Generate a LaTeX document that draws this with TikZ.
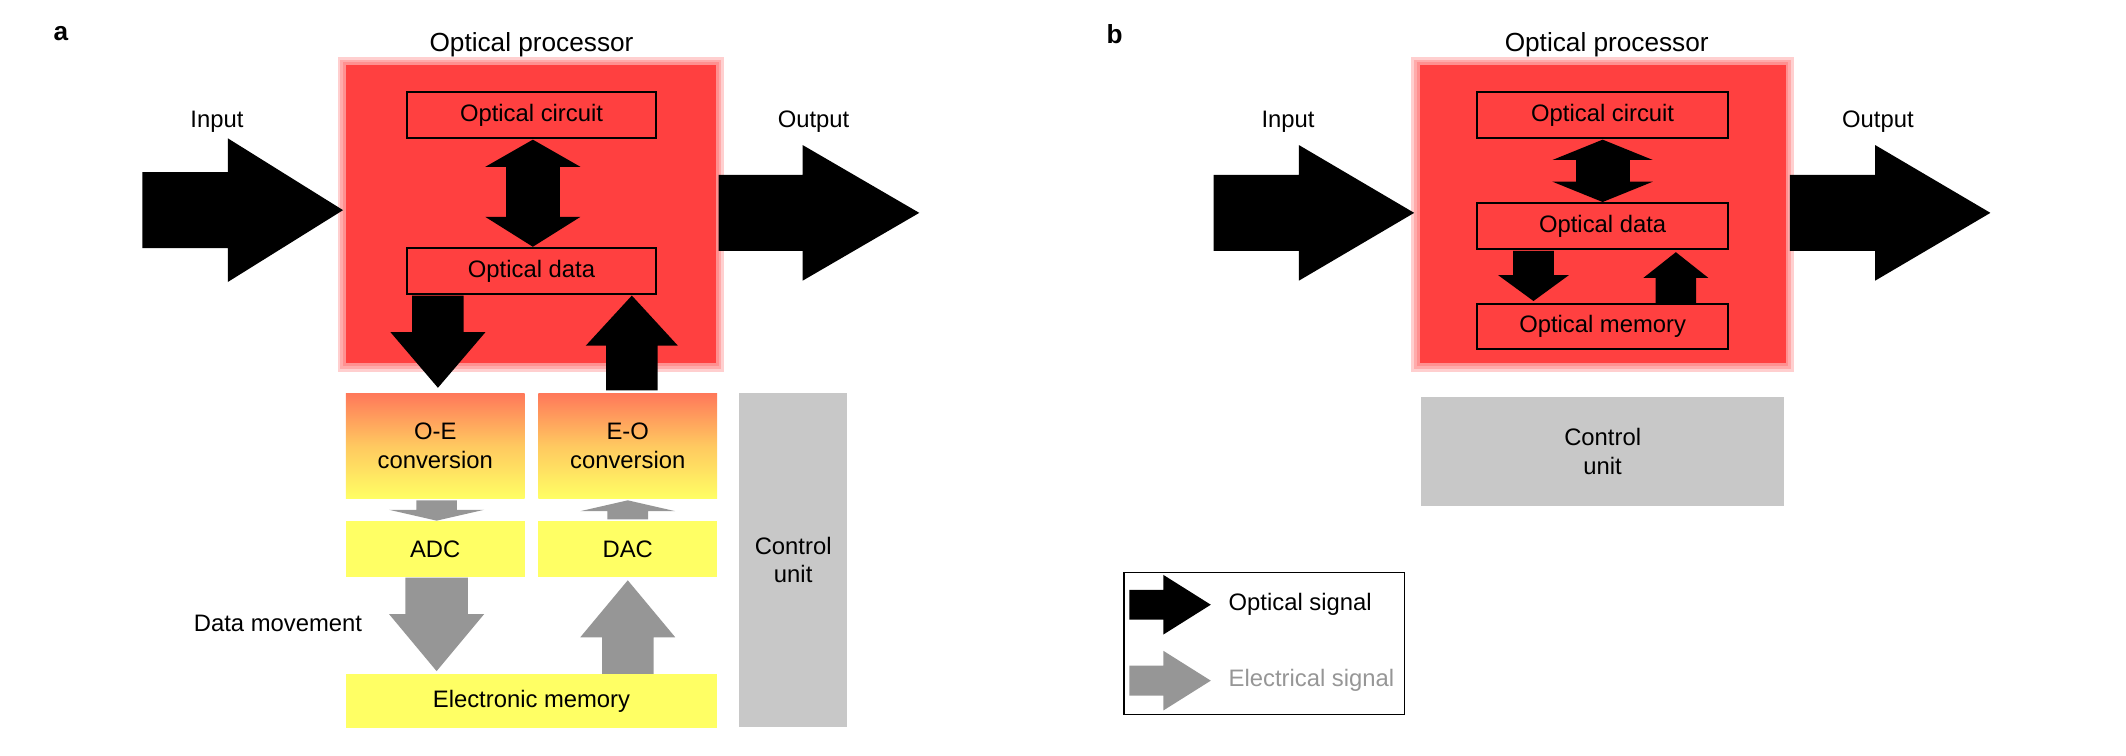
\documentclass[tikz,border=0pt]{standalone}
\usepackage{fontspec}
\setmainfont{Liberation Sans}
\usetikzlibrary{positioning}

\definecolor{procred}{RGB}{255,64,64}
\definecolor{convorange}{RGB}{255,120,90}
\definecolor{elyellow}{RGB}{255,255,100}
\definecolor{ctrlgray}{RGB}{200,200,200}
\definecolor{elgray}{RGB}{150,150,150}

\tikzset{
  lbl/.style = {font = \fontsize{10}{12}\selectfont, align = center},
  databox/.style = {draw = black, line width = 0.3mm, fill = procred, inner sep = 0pt, lbl},
}

% vertical block arrow: xc, start y, head base y, tip y, shaft half width, head half width, colour
\newcommand{\varrow}[7]{\fill[#7] (#1-#5,#2) -- (#1-#5,#3) -- (#1-#6,#3) -- (#1,#4) -- (#1+#6,#3) -- (#1+#5,#3) -- (#1+#5,#2) -- cycle;}
% horizontal block arrow: yc, start x, head base x, tip x, shaft half height, head half height, colour
\newcommand{\harrow}[7]{\fill[#7] (#2,#1-#5) -- (#3,#1-#5) -- (#3,#1-#6) -- (#4,#1) -- (#3,#1+#6) -- (#3,#1+#5) -- (#2,#1+#5) -- cycle;}
% blurred red block
\newcommand{\redblock}[4]{
  \foreach \e in {6,4,2} {\fill[procred, opacity = 0.25] (#1-\e,#2-\e) rectangle (#3+\e,#4+\e);}
  \fill[procred] (#1,#2) rectangle (#3,#4);}

\begin{document}
\begin{tikzpicture}[x = 0.02cm, y = -0.02cm]

\useasboundingbox (0,0) rectangle (1568,557);

% panel a
\node[font = \bfseries\fontsize{11}{13}\selectfont] (la) at (45,25) {a};
\node[lbl, font = \fontsize{11}{13}\selectfont] (ta) at (392,33) {Optical processor};
\redblock{255}{48}{528}{268}

\node[databox, minimum width = 3.68cm, minimum height = 0.68cm] (occ) at (392,85) {Optical circuit};
\node[databox, minimum width = 3.68cm, minimum height = 0.68cm] (oda) at (392,200) {Optical data};

% double arrow
\fill[black] (373,123) rectangle (413,162);
\fill[black] (358,123) -- (393,103) -- (428,123) -- cycle;
\fill[black] (358,160) -- (393,182) -- (428,160) -- cycle;

\node[lbl] (ina) at (160,90) {Input};
\node[lbl] (outa) at (600,90) {Output};
\harrow{155}{105}{168}{253}{28}{53}{black}
\harrow{157}{530}{592}{678}{28}{50}{black}

\varrow{323}{218}{245}{286}{19}{35}{black}
\varrow{466}{288}{255}{218}{19}{34}{black}

\node[lbl, minimum width = 2.64cm, minimum height = 1.56cm, top color = convorange, bottom color = elyellow, middle color = elyellow!60!convorange] (oe) at (321,329) {O-E\\conversion};
\node[lbl, minimum width = 2.64cm, minimum height = 1.56cm, top color = convorange, bottom color = elyellow, middle color = elyellow!60!convorange] (eo) at (463,329) {E-O\\conversion};

\varrow{322}{369}{376}{384}{15}{35}{elgray}
\varrow{463}{383}{377}{369}{15}{35}{elgray}

\node[lbl, fill = elyellow, minimum width = 2.64cm, minimum height = 0.82cm] (adc) at (321,405) {ADC};
\node[lbl, fill = elyellow, minimum width = 2.64cm, minimum height = 0.82cm] (dac) at (463,405) {DAC};

\varrow{322}{426}{453}{495}{23}{35}{elgray}
\varrow{463}{497}{470}{428}{19}{35}{elgray}
\node[lbl] (dm) at (205,460) {Data movement};

\node[lbl, fill = elyellow, minimum width = 5.48cm, minimum height = 0.8cm] (emem) at (392,517) {Electronic memory};
\node[lbl, fill = ctrlgray, minimum width = 1.6cm, minimum height = 4.94cm] (cua) at (585,413) {Control\\unit};

% panel b
\node[font = \bfseries\fontsize{11}{13}\selectfont] (lb) at (822,25) {b};
\node[lbl, font = \fontsize{11}{13}\selectfont] (tb) at (1185,33) {Optical processor};
\redblock{1047}{48}{1317}{268}

\node[databox, minimum width = 3.7cm, minimum height = 0.68cm] (ocb) at (1182,85) {Optical circuit};
\node[databox, minimum width = 3.7cm, minimum height = 0.68cm] (odb) at (1182,167) {Optical data};
\node[databox, minimum width = 3.7cm, minimum height = 0.66cm] (omb) at (1182,241) {Optical memory};

\fill[black] (1162,117) rectangle (1202,135);
\fill[black] (1145,118) -- (1182,103) -- (1219,118) -- cycle;
\fill[black] (1145,134) -- (1182,149) -- (1219,134) -- cycle;

\varrow{1131}{185}{203}{222}{15}{26}{black}
\varrow{1236}{224}{205}{186}{15}{24}{black}

\node[lbl] (inb) at (950,90) {Input};
\node[lbl] (outb) at (1385,90) {Output};
\harrow{157}{895}{958}{1043}{28}{50}{black}
\harrow{157}{1320}{1383}{1468}{28}{50}{black}

\node[lbl, fill = ctrlgray, minimum width = 5.36cm, minimum height = 1.6cm] (cub) at (1182,333) {Control\\unit};

% legend
\draw[line width = 0.2mm] (829,422) rectangle (1036,527);
\harrow{446}{833}{858}{893}{11}{22}{black}
\harrow{502}{833}{858}{893}{11}{22}{elgray}
\node[lbl, anchor = west] (los) at (900,446) {Optical signal};
\node[lbl, anchor = west, text = elgray] (les) at (900,502) {Electrical signal};

\end{tikzpicture}
\end{document}
